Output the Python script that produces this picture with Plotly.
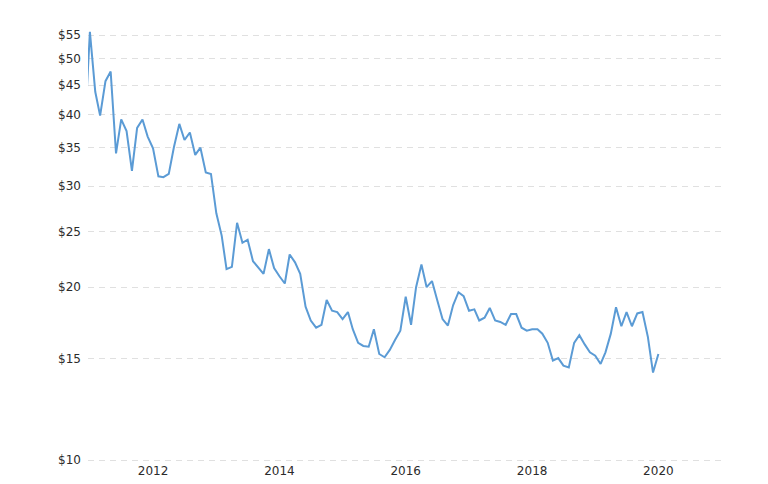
import pandas as pd
import plotly.graph_objects as go

start_month = "2010-12-01"
prices = [
    37.0,
    55.7, 43.8, 39.8, 45.7, 47.5, 34.2, 39.2, 37.4, 31.9, 37.9, 39.2, 36.6,
    34.9, 31.2, 31.1, 31.5, 35.1, 38.5, 36.1, 37.2, 34.0, 35.0, 31.7, 31.5,
    26.9, 24.6, 21.5, 21.7, 25.9, 23.9, 24.2, 22.2, 21.6, 21.1, 23.3, 21.6,
    20.9, 20.3, 22.8, 22.1, 21.1, 18.5, 17.5, 17.0, 17.2, 19.0, 18.2, 18.1,
    17.6, 18.1, 16.9, 16.0, 15.8, 15.75, 16.9, 15.3, 15.1, 15.55, 16.2, 16.8,
    19.25, 17.2, 20.0, 21.9, 20.0, 20.5, 19.0, 17.6, 17.15, 18.6, 19.6, 19.3,
    18.2, 18.3, 17.5, 17.7, 18.4, 17.5, 17.4, 17.2, 17.96, 17.96, 17.0, 16.8,
    16.9, 16.9, 16.6, 16.0, 14.9, 15.05, 14.6, 14.5, 16.0, 16.5, 15.9, 15.4,
    15.2, 14.7, 15.4, 16.6, 18.45, 17.1, 18.1, 17.1, 18.0, 18.1, 16.4, 14.2,
    15.3,
]
dates = pd.date_range(start_month, periods=len(prices), freq="MS")

y_tick_values = [10, 15, 20, 25, 30, 35, 40, 45, 50, 55]
y_tick_labels = ["$10", "$15", "$20", "$25", "$30", "$35", "$40", "$45", "$50", "$55"]
x_tick_values = ["2012-01-01", "2014-01-01", "2016-01-01", "2018-01-01", "2020-01-01"]
x_tick_labels = ["2012", "2014", "2016", "2018", "2020"]

fig = go.Figure()
fig.add_trace(go.Scatter(
    x=dates, y=prices, mode="lines",
    line=dict(color="#5b9bd5", width=2),
    hoverinfo="x+y", showlegend=False,
))

font = dict(family="DejaVu Sans, Verdana, sans-serif", size=12, color="#2b2b2b")
fig.update_layout(
    template="none",
    width=760, height=476,
    margin=dict(l=80, r=42, t=17, b=22, pad=0),
    paper_bgcolor="white", plot_bgcolor="white",
    font=font,
    xaxis=dict(
        type="date",
        range=["2010-12-21", "2021-01-26"],
        tickvals=x_tick_values, ticktext=x_tick_labels,
        showgrid=False, zeroline=False, showline=False, ticks="",
        automargin=False,
        tickfont=font,
    ),
    yaxis=dict(
        type="log",
        range=[0.99651, 1.7578],
        tickvals=y_tick_values, ticktext=y_tick_labels,
        showgrid=True, gridcolor="#e0e0e0", griddash="6px,5px", gridwidth=1,
        zeroline=False, showline=False, ticks="",
        ticklabelstandoff=6,
        automargin=False,
        tickfont=font,
    ),
)

fig.write_html("out.html")
